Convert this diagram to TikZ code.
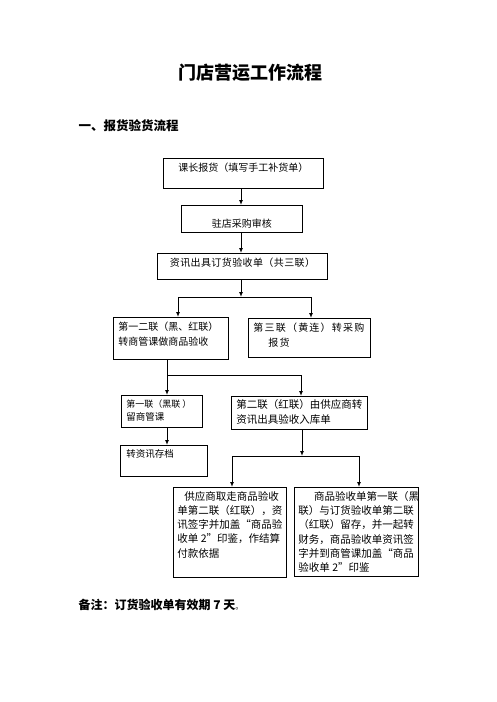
\documentclass[tikz,border=0pt]{standalone}
\usepackage{fontspec}
\setmainfont{Noto Sans CJK SC}
\usetikzlibrary{arrows.meta}

\tikzset{
  box/.style={draw, line width=0.9pt, anchor=north west, inner xsep=5pt, inner ysep=4pt},
  flow/.style={line width=1pt, -{Latex[length=5pt,width=4pt]}},
  link/.style={line width=1pt}
}

\begin{document}
\begin{tikzpicture}[x=1pt, y=-1pt, font=\fontsize{10}{15}\selectfont]
\useasboundingbox (0,0) rectangle (496,702);

% headings
\node[font=\fontsize{18}{18}\selectfont\bfseries] (title) at (250,73) {门店营运工作流程};
\node[font=\fontsize{12.5}{13}\selectfont\bfseries, anchor=west] (part) at (75,126) {一、报货验货流程};

% boxes
\node[box] (order) at (163,158) {\parbox[c][22pt][t]{150pt}{\centering 课长报货（填写手工补货单）}};
\node[box] (audit) at (181,205) {\parbox[c][18pt][b]{111pt}{\centering 驻店采购审核}};
\node[box] (issue) at (157,253) {\parbox[c][18pt][t]{160pt}{\centering\addfontfeature{LetterSpace=4}资讯出具订货验收单（共三联）}};
\node[box] (first) at (113,317) {\parbox[c][34pt][t]{105pt}{第一二联（黑、红联）\\转商管课做商品验收}};
\node[box] (third) at (248,318) {\parbox[c][31pt][t]{112pt}{\addfontfeature{LetterSpace=12}第三联（黄连）转采购\\\hspace*{1.5em}报货}};
\node[box, font=\fontsize{9.5}{13}\selectfont] (keep) at (121,395) {\parbox[c][24pt][t]{71pt}{\mbox{\fontsize{9}{13}\selectfont 第一联（黑联\hspace{2pt}）}\\留商管课}};
\node[box, font=\fontsize{10.5}{15}\selectfont, inner ysep=3pt] (second) at (231,396) {\parbox[c][27pt][t]{126pt}{第二联（红联）由供应商转\\资讯出具验收入库单}};
\node[box, font=\fontsize{9.5}{13}\selectfont, inner xsep=6pt] (archive) at (120,445) {\parbox[c][23pt][t]{75pt}{转资讯存档}};
\node[box, font=\fontsize{10.5}{14.2}\selectfont, inner xsep=4pt] (take) at (173,487) {\parbox[c][82pt][t]{105pt}{\hspace*{7pt}供应商取走商品验收\\单第二联（红联），资\\讯签字并加盖“商品验\\收单 2”印鉴，作结算\\付款依据}};
\node[box, font=\fontsize{10.5}{14.2}\selectfont, inner xsep=4pt] (retain) at (294,487) {\parbox[c][81pt][t]{116pt}{\hspace*{1.5em}商品验收单第一联（黑\\联）与订货验收单第二联\\（红联）留存，并一起转\\财务，商品验收单资讯签\\字并到商管课加盖“商品\\验收单 2”印鉴}};

% note
\node[font=\fontsize{12}{12}\selectfont\bfseries, anchor=west] (note) at (75,605) {备注：订货验收单有效期 7 天{\mdseries\fontsize{8}{8}\selectfont 。}};

% split points
\coordinate (s1) at (241,297);
\coordinate (s1l) at (178,297);
\coordinate (s1r) at (311,297);
\coordinate (s2) at (167,375);
\coordinate (s2r) at (301,375);
\coordinate (s3) at (302,456);
\coordinate (s3l) at (232,456);
\coordinate (s3r) at (359,456);

% connectors
\draw[flow] (order.south -| s1) -- (audit.north -| s1);
\draw[flow] (audit.south -| s1) -- (issue.north -| s1);
\draw[flow] (issue.south -| s1) -- (s1);
\draw[link] (s1l) -- (s1r);
\draw[flow] (s1l) -- (s1l |- first.north);
\draw[flow] (s1r) -- (s1r |- third.north);
\draw[flow] (s2 |- first.south) -- (s2 |- keep.north);
\draw[link] (s2) -- (s2r);
\draw[flow] (s2r) -- (s2r |- second.north);
\draw[flow] (s2 |- keep.south) -- (s2 |- archive.north);
\draw[flow] (second.south -| s3) -- (s3);
\draw[link] (s3l) -- (s3r);
\draw[flow] (s3l) -- (s3l |- take.north);
\draw[flow] (s3r) -- (s3r |- retain.north);
\end{tikzpicture}
\end{document}
